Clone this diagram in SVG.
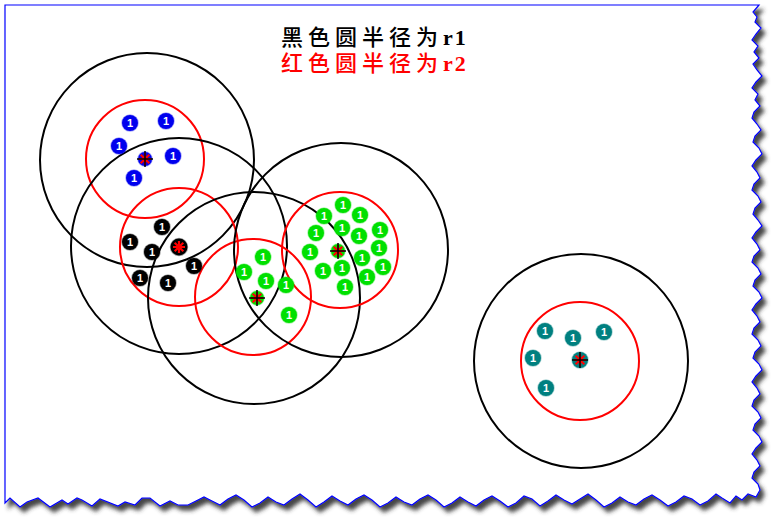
<svg xmlns="http://www.w3.org/2000/svg" width="775" height="520" viewBox="0 0 775 520">
<defs>
<filter id="sh" x="-5%" y="-5%" width="115%" height="115%">
<feDropShadow dx="4" dy="5" stdDeviation="2" flood-color="#333" flood-opacity="0.9"/>
</filter>
<g id="ast">
<path d="M-6,0H6M0,-6V6M-4.3,-4.3L4.3,4.3M-4.3,4.3L4.3,-4.3" stroke="#ff0000" stroke-width="2.2"/>
</g>
</defs>
<style>
.r1{fill:none;stroke:#000;stroke-width:2}
.r2{fill:none;stroke:#ff0000;stroke-width:2}
.d circle{stroke-width:1.5;stroke-opacity:0.35}
.b circle{fill:#0000ee;stroke:#0000ee}
.k circle{fill:#000;stroke:#000}
.g circle{fill:#00e000;stroke:#00e000}
.t circle{fill:#008080;stroke:#008080}
.d text{font-family:"Liberation Sans",Arial,sans-serif;font-weight:bold;font-size:11px;fill:#fff;text-anchor:middle}
.cross{stroke:#000;stroke-width:1.5}
.title{font-family:"Liberation Serif","Noto Sans CJK SC",serif;font-size:22px;font-weight:500;letter-spacing:5px}
.lat{font-weight:bold;letter-spacing:2px}
</style>
<rect width="775" height="520" fill="#fff"/>
<g id="frame">
<path filter="url(#sh)" fill="#fff" stroke="#0000ff" stroke-width="1.2" d="M5,503V5H759L753,12 757,17 755,22 761,28 756,34 752,40 758,46 754,52 759,58 753,64 757,70 762,76 756,82 752,88 758,94 755,100 760,106 754,112 752,118 757,124 761,130 755,136 753,142 759,148 762,154 756,160 752,166 757,172 760,178 754,184 752,190 758,196 761,202 755,208 753,214 758,220 762,226 756,232 752,238 757,244 760,250 754,256 752,262 758,268 761,274 755,280 753,286 759,292 762,298 756,304 752,310 757,316 760,322 754,328 752,334 758,340 761,346 755,352 753,358 759,364 762,370 756,376 752,382 757,388 760,394 754,400 752,406 758,412 761,418 755,424 753,430 759,436 762,442 756,448 752,454 757,460 760,466 754,472 752,478 758,484 760,490 756,497 748,494 742,500 736,496 730,503 722,498 716,494 708,501 700,505 692,499 684,496 676,502 668,506 660,500 652,495 644,499 636,505 628,502 620,497 612,503 604,507 596,500 588,494 580,499 572,504 564,500 556,495 548,501 540,506 532,499 524,496 516,503 508,507 500,501 492,496 484,500 476,506 468,502 460,497 452,503 444,507 436,500 428,495 420,499 412,505 404,502 396,497 388,503 380,507 372,500 364,495 356,499 348,505 340,501 332,496 324,502 316,507 308,500 300,494 292,499 284,505 276,502 268,497 260,503 252,507 244,500 236,495 228,499 220,505 212,501 204,497 196,501 188,505 178,505 170,501 160,506 150,498 142,498 135,505 125,502 118,506 100,499 92,506 82,500 77,498 68,504 62,500 50,507 38,498 27,502 20,507 10,498Z"/>
</g>
<g id="title">
<text class="title" x="281" y="45" fill="#000">黑色圆半径为<tspan class="lat">r1</tspan></text>
<text class="title" x="281" y="71" fill="#ff0000">红色圆半径为<tspan class="lat">r2</tspan></text>
</g>
<g id="circles">
<circle class="r1" cx="147" cy="160" r="107"/>
<circle class="r2" cx="145" cy="159" r="59"/>
<circle class="r1" cx="179" cy="246" r="108"/>
<circle class="r2" cx="179" cy="247" r="59"/>
<circle class="r1" cx="254" cy="298" r="106"/>
<circle class="r2" cx="253" cy="297" r="58"/>
<circle class="r1" cx="341" cy="250" r="107"/>
<circle class="r2" cx="340" cy="250" r="58"/>
<circle class="r1" cx="581" cy="361" r="107"/>
<circle class="r2" cx="580" cy="361" r="59"/>
</g>
<g id="cluster-blue" class="d b">
<g id="b1"><circle cx="130" cy="123" r="8"/><text x="130" y="127">1</text></g>
<g id="b2"><circle cx="166" cy="121" r="8"/><text x="166" y="125">1</text></g>
<g id="b3"><circle cx="119" cy="146" r="8"/><text x="119" y="150">1</text></g>
<g id="b4"><circle cx="173" cy="156" r="8"/><text x="173" y="160">1</text></g>
<g id="b5"><circle cx="134" cy="178" r="8"/><text x="134" y="182">1</text></g>
<g id="b-center"><circle cx="145" cy="159" r="7"/><use href="#ast" x="145" y="159"/><path class="cross" d="M137,159H153M145,151V167"/></g>
</g>
<g id="cluster-black" class="d k">
<g id="k1"><circle cx="162" cy="227" r="8"/><text x="162" y="231">1</text></g>
<g id="k2"><circle cx="130" cy="242" r="8"/><text x="130" y="246">1</text></g>
<g id="k3"><circle cx="152" cy="252" r="8"/><text x="152" y="256">1</text></g>
<g id="k4"><circle cx="140" cy="278" r="8"/><text x="140" y="282">1</text></g>
<g id="k5"><circle cx="168" cy="283" r="8"/><text x="168" y="287">1</text></g>
<g id="k6"><circle cx="194" cy="266" r="8"/><text x="194" y="270">1</text></g>
<g id="k-center"><circle cx="179" cy="247" r="8.5"/><use href="#ast" x="179" y="247"/></g>
</g>
<g id="cluster-green-low" class="d g">
<g id="g1"><circle cx="263" cy="257" r="8"/><text x="263" y="261">1</text></g>
<g id="g2"><circle cx="244" cy="272" r="8"/><text x="244" y="276">1</text></g>
<g id="g3"><circle cx="266" cy="281" r="8"/><text x="266" y="285">1</text></g>
<g id="g4"><circle cx="286" cy="285" r="8"/><text x="286" y="289">1</text></g>
<g id="g5"><circle cx="289" cy="315" r="8"/><text x="289" y="319">1</text></g>
<g id="g-center"><circle cx="257" cy="298" r="7"/><use href="#ast" x="257" y="298"/><path class="cross" d="M249,298H265M257,290V306"/></g>
</g>
<g id="cluster-green-up" class="d g">
<g id="h1"><circle cx="343" cy="205" r="8"/><text x="343" y="209">1</text></g>
<g id="h2"><circle cx="324" cy="216" r="8"/><text x="324" y="220">1</text></g>
<g id="h3"><circle cx="360" cy="215" r="8"/><text x="360" y="219">1</text></g>
<g id="h4"><circle cx="342" cy="228" r="8"/><text x="342" y="232">1</text></g>
<g id="h5"><circle cx="316" cy="233" r="8"/><text x="316" y="237">1</text></g>
<g id="h6"><circle cx="359" cy="236" r="8"/><text x="359" y="240">1</text></g>
<g id="h7"><circle cx="380" cy="230" r="8"/><text x="380" y="234">1</text></g>
<g id="h8"><circle cx="310" cy="252" r="8"/><text x="310" y="256">1</text></g>
<g id="h9"><circle cx="362" cy="258" r="8"/><text x="362" y="262">1</text></g>
<g id="h10"><circle cx="379" cy="248" r="8"/><text x="379" y="252">1</text></g>
<g id="h11"><circle cx="323" cy="271" r="8"/><text x="323" y="275">1</text></g>
<g id="h12"><circle cx="342" cy="268" r="8"/><text x="342" y="272">1</text></g>
<g id="h13"><circle cx="367" cy="277" r="8"/><text x="367" y="281">1</text></g>
<g id="h14"><circle cx="383" cy="267" r="8"/><text x="383" y="271">1</text></g>
<g id="h15"><circle cx="345" cy="287" r="8"/><text x="345" y="291">1</text></g>
<g id="h-center"><circle cx="338" cy="251" r="7"/><use href="#ast" x="338" y="251"/><path class="cross" d="M330,251H346M338,243V259"/></g>
</g>
<g id="cluster-teal" class="d t">
<g id="t1"><circle cx="545" cy="331" r="8"/><text x="545" y="335">1</text></g>
<g id="t2"><circle cx="573" cy="338" r="8"/><text x="573" y="342">1</text></g>
<g id="t3"><circle cx="604" cy="332" r="8"/><text x="604" y="336">1</text></g>
<g id="t4"><circle cx="533" cy="358" r="8"/><text x="533" y="362">1</text></g>
<g id="t5"><circle cx="546" cy="388" r="8"/><text x="546" y="392">1</text></g>
<g id="t-center"><circle cx="580" cy="360" r="8"/><use href="#ast" x="580" y="360"/><path class="cross" d="M572,360H588M580,352V368"/></g>
</g>
</svg>
